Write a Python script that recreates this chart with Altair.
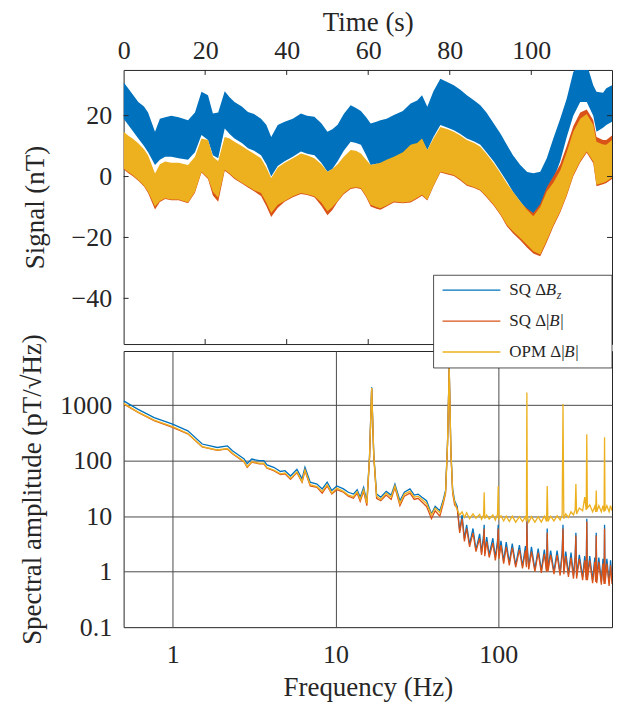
import altair as alt
import pandas as pd

# ---------------- time-domain data (envelopes of the noisy traces, nT) -------------
time_s = [0, 1.1, 2.2, 3.6, 5, 6, 7.7, 8.9, 10.2, 11.7,
          13.5, 15.8, 17.5, 19.1, 20.7, 21.9, 23.2, 24.8, 26, 27.2,
          29, 30.5, 32, 33.7, 35, 36.2, 37.8, 39.5, 41.5, 43.5,
          45, 46.8, 48.5, 50, 51.2, 52.5, 54, 55.7, 57, 58.2,
          59.5, 60.6, 62, 63, 64.5, 66.3, 68.5, 70.4, 72, 73.2,
          74.5, 76, 77.7, 79.5, 81, 82.6, 84.2, 86, 87.5, 89,
          90.8, 92.5, 94, 95.5, 97.3, 99, 100.5, 102.2, 103.8, 105.4,
          107.1, 108.7, 110.3, 112, 113.6, 115.2, 116, 117.6, 118.4, 119.8]

sq_bz_hi = [31, 29, 27, 24.5, 23, 21, 14.7, 19, 19.5, 20,
            19.5, 18.5, 21, 27.8, 26.7, 20.7, 21, 28, 26, 24.5,
            23, 21.2, 20.5, 19, 17, 13, 16.9, 18, 19, 20.7,
            20, 19.6, 17.5, 14.7, 15.5, 17, 20.5, 23.4, 22.5, 21.5,
            19.5, 17.4, 18, 18.5, 19, 20.2, 21.5, 24, 25, 26.7,
            22.9, 28, 32.1, 31, 30, 28.5, 26.7, 25, 23.4, 21,
            17.4, 14, 10.4, 7, 3.8, 1.5, 1.1, 1.6, 6, 12.5,
            19, 25.6, 34.3, 37, 37, 30, 27.8, 27.5, 29, 30]
sq_bz_lo = [19, 17, 15, 12.5, 10, 8, 3.8, 5.5, 6.5, 6.5,
            6, 5.5, 8, 13.6, 12, 7, 6, 15.8, 14, 12.5,
            11, 9.3, 8.5, 7, 4, 0, 3.5, 5, 6.5, 8.2,
            7.5, 7, 4.5, 1.6, 2.5, 5, 8.5, 11.4, 11, 10.4,
            7, 3.8, 4.2, 4, 5, 6, 7, 8.2, 10, 12,
            8.7, 13, 16.9, 16, 15.2, 14, 12.5, 11.5, 10.4, 8,
            4.9, 1.5, -1.6, -5, -8.2, -11, -12.5, -10.5, -6, -1,
            5, 13, 20, 24.5, 24.5, 20, 14.7, 16, 16.9, 18]
sq_b_hi = [14.2, 13, 12, 10.4, 8.5, 6.5, 0.5, 3.5, 4.4, 4,
           4, 3.3, 6, 12, 11.5, 6, 4.5, 12.5, 12, 10.9,
           9.5, 8.2, 7, 5.5, 2.5, -1, 2.5, 4, 5.5, 7.1,
           6.5, 5.5, 3.5, 1.1, 2, 3.5, 6, 8.2, 8, 7.1,
           5, 3.3, 3.7, 4, 5, 6, 7.5, 9.9, 10.5, 12,
           8.2, 12, 15.8, 15, 14.2, 13, 11.5, 10.5, 9.3, 7,
           3.9, 0.5, -2.7, -5.5, -8.7, -10.5, -12, -9, -3.5, 0,
           4, 10, 16.5, 21, 22, 18.5, 13, 12, 12, 13.5]
sq_b_lo = [2.4, 1.2, 0.2, -1.4, -3.3, -5.4, -10.8, -8.4, -7.4, -7.8,
           -7.8, -8.8, -5.3, 1.3, -0.8, -6.2, -8.3, 1.9, 0.7, -0.8,
           -2.3, -3.6, -4.8, -6.4, -9.7, -13.3, -10.3, -8.3, -6.8, -5.7,
           -6.1, -6.8, -9.6, -12.7, -11, -8.3, -5.8, -4.1, -3.8, -4.1,
           -6.8, -9.8, -10.6, -10.9, -9.8, -8.5, -8.8, -8.5, -7.3, -6.3,
           -7.9, -3.3, 1.3, 0.7, 0.2, -1.3, -3.0, -3.8, -4.7, -6.8,
           -9.6, -12.8, -16.3, -18.6, -20.9, -23.4, -25.3, -26.2, -21.6, -16.5,
           -11.8, -6.4, 0.1, 4.6, 7.8, 4.4, -3.2, -2.5, -2.1, -0.8]
opm_hi = [14.7, 13.5, 12.5, 10.9, 9, 7, 1, 4, 4.9, 4.5,
          4.5, 3.8, 6.5, 12.5, 12, 6.5, 5, 13, 12.5, 11.4,
          10, 8.7, 7.5, 6, 3, -0.5, 3, 4.5, 6, 7.6,
          7, 6, 4, 1.6, 2.5, 4, 6.5, 8.7, 8.5, 7.6,
          5.5, 3.8, 4.2, 4.5, 5.5, 6.5, 8, 10.4, 11, 12.5,
          8.7, 12.5, 16.3, 15.5, 14.7, 13.5, 12, 11, 9.8, 7.5,
          4.4, 1, -2.2, -5, -8.2, -11, -13, -10, -4.9, -2,
          2, 8, 14.7, 19, 20.5, 17, 11.4, 10.5, 10.4, 12]
opm_lo = [2.7, 1.5, 0.5, -1.1, -3, -5, -9.8, -8, -7.1, -7.5,
          -7.5, -8.5, -5, 1.6, -0.5, -5, -7, 2.2, 1, -0.5,
          -2, -3.3, -4.5, -5.4, -8.5, -12, -9.3, -8, -6.5, -5.4,
          -5.8, -6.5, -8.5, -11.4, -10, -8, -5.5, -3.8, -3.5, -3.8,
          -6.5, -9.3, -10, -10.4, -9.5, -8.2, -8.5, -8.2, -7, -6,
          -7.6, -3, 1.6, 1, 0.5, -1, -2.7, -3.5, -4.4, -6.5,
          -9.3, -12.5, -15.8, -18, -20.2, -22.5, -24.5, -25.6, -21, -16,
          -11.4, -6, 0.5, 5, 8.2, 4.9, -2.7, -2, -1.6, -0.3]

time_ticks = [0, 20, 40, 60, 80, 100]
signal_ticks = [-40, -20, 0, 20]

# ---------------- spectral data (pT/sqrt(Hz)) ----------------
freq_hz = [0.5, 0.61, 0.77, 1.0, 1.24, 1.52, 1.88, 2.17, 2.33, 2.5,
           2.75, 2.87, 3.06, 3.4, 3.63, 3.8, 4.18, 4.6, 4.9, 5.3,
           5.8, 6.24, 6.5, 7.0, 7.7, 8.3, 8.9, 9.5, 10.2, 11.2,
           12.0, 12.9, 13.6, 14.2, 14.9, 15.6, 16.2, 16.7, 17.2, 17.9,
           19.0, 20.5, 22.0, 23.2, 24.9, 26.5, 28.7, 30.5, 32.2, 34.0,
           36.3, 38.9, 41.0, 43.8, 46.0, 47.5, 48.8, 50.0, 51.2, 52.5,
           54.0,
           56, 58, 60, 62, 64, 66.7, 70, 73, 76.9, 79,
           81.3, 82, 82.7, 85, 88, 92.7, 96, 99, 100, 101,
           104, 108, 112, 117, 122, 128, 135, 141, 147, 149,
           150, 151, 154, 160, 168, 176, 184, 192, 198, 200,
           202, 210, 220, 230, 240, 247, 250, 253, 260, 270,
           280, 290, 297, 300, 303, 315, 330, 340, 347, 350,
           353, 365, 380, 392, 397, 400, 403, 415, 430, 440,
           447, 450, 453, 465, 480, 490, 500]

amp_sq_bz = [1200, 850, 600, 455, 345, 200, 173, 185, 151, 131,
             108, 88, 107, 100, 100, 84, 76, 64, 66, 53,
             70, 47, 76, 41, 38, 31, 41, 29, 35, 31,
             27, 25, 30, 22, 33, 18, 120, 2100, 130, 25,
             22, 28, 24, 38, 19, 27, 31, 24, 25, 22,
             19, 11, 15, 12.5, 20, 29, 200, 4800, 150, 30,
             19,
             15, 5.5, 10.5, 3.9, 7, 3.1, 6, 2.5, 4.8, 2.2,
             4.6, 7, 2.1, 4.2, 2, 4, 1.8, 3.6, 7, 1.9,
             3.6, 1.55, 3.4, 1.45, 3.2, 1.3, 3, 1.25, 2.9, 1.3,
             9, 2.8, 1.2, 2.8, 1.1, 2.6, 1.05, 2.5, 1.1, 6,
             1.1, 2.4, 1.0, 2.4, 0.95, 2.3, 7, 1.0, 2.3, 0.9,
             2.2, 0.85, 2.0, 5, 0.85, 2.0, 0.8, 1.9, 0.8, 9,
             0.8, 1.9, 0.7, 1.8, 0.72, 5, 0.7, 1.8, 0.65, 1.7,
             0.68, 7, 0.68, 1.7, 0.62, 1.6, 0.68]
amp_sq_b = [1060, 750, 530, 400, 305, 177, 153, 163, 133, 115,
            95, 76, 94, 88, 88, 73, 66, 56, 58, 46,
            61, 41, 66, 35, 33, 26, 35, 25, 30, 27,
            23, 21, 26, 18.5, 28, 15.5, 110, 2000, 120, 21,
            19, 24, 20, 33, 15.5, 23, 26, 20, 21, 18,
            15, 9, 12.5, 10, 17, 26, 190, 4700, 140, 26,
            16,
            14, 5, 9, 3.5, 6, 2.8, 5, 2.3, 4, 2,
            3.8, 6, 1.9, 3.5, 1.8, 3.3, 1.6, 3, 6, 1.7,
            3, 1.4, 2.8, 1.3, 2.7, 1.2, 2.5, 1.15, 2.4, 1.2,
            8, 2.3, 1.1, 2.3, 1.0, 2.2, 0.95, 2.1, 1.0, 5,
            1.0, 2.0, 0.9, 2.0, 0.85, 1.9, 6, 0.9, 1.9, 0.8,
            1.8, 0.75, 1.7, 4.5, 0.75, 1.7, 0.7, 1.6, 0.7, 8,
            0.7, 1.6, 0.62, 1.5, 0.65, 4.5, 0.62, 1.5, 0.58, 1.4,
            0.6, 6, 0.6, 1.4, 0.55, 1.3, 0.6]
amp_opm = [1080, 760, 540, 410, 310, 180, 156, 166, 136, 118,
           97, 78, 96, 90, 90, 75, 68, 58, 60, 48,
           63, 42, 68, 37, 34, 28, 37, 26, 32, 28,
           24, 22.5, 27.5, 20, 30, 17, 115, 2050, 125, 23,
           20, 26, 22, 35, 17, 25, 28, 22, 23, 20,
           17, 10.5, 14, 11.5, 18.5, 27, 195, 4750, 145, 28,
           18,
           13, 10.5, 12, 9.5, 11.5, 9, 11, 9.2, 10.8, 8.8,
           10.5, 27, 9, 10.5, 8.8, 10.5, 8.5, 10.8, 35, 9,
           10.2, 8.2, 10, 8, 10, 7.8, 9.8, 8, 9.8, 8,
           1700, 9.8, 7.8, 9.8, 7.8, 9.8, 7.8, 10, 8, 35,
           8, 10, 8.2, 10.2, 8.5, 10.5, 1050, 9, 11, 9.5,
           12, 10.5, 13, 38, 11, 14, 12.5, 22, 13, 300,
           14, 16, 12, 15, 12, 29, 12, 15.5, 12, 15.5,
           12, 265, 12.5, 15.5, 12, 15.5, 12.5]

freq_ticks = [1, 10, 100]
amp_ticks = [0.1, 1, 10, 100, 1000]

series_colors = ["#0072BD", "#D95319", "#EDB120"]

# ---------------- build ----------------
FONT = "Liberation Serif"
INK = "#262626"
W = 490
H_TOP = 275
H_BOT = 277

top_df = pd.DataFrame({"t": time_s,
                       "bz_hi": sq_bz_hi, "bz_lo": sq_bz_lo,
                       "b_hi": sq_b_hi, "b_lo": sq_b_lo,
                       "opm_hi": opm_hi, "opm_lo": opm_lo})

xs_top = alt.Scale(domain=[0, 119.8], nice=False, zero=False)
ys_top = alt.Scale(domain=[-55, 35], nice=False, zero=False)

axis_common = dict(labelFont=FONT, titleFont=FONT, labelFontSize=26, titleFontSize=27,
                   labelColor=INK, titleColor=INK, titleFontWeight="normal",
                   tickSize=0, domain=False, labelFlush=False)

x_top_axis = alt.Axis(orient="top", values=time_ticks, title="Time (s)", grid=False,
                      labelPadding=6, titlePadding=2, **axis_common)
y_top_axis = alt.Axis(values=signal_ticks, title="Signal (nT)", grid=False,
                      labelPadding=12, titlePadding=22, **axis_common)

areas = []
for i, (lo, hi) in enumerate([("bz_lo", "bz_hi"), ("b_lo", "b_hi"), ("opm_lo", "opm_hi")]):
    areas.append(alt.Chart(top_df).mark_area(color=series_colors[i], clip=True,
                                             interpolate="linear", opacity=1).encode(
        x=alt.X("t:Q", scale=xs_top, axis=x_top_axis),
        y=alt.Y(f"{lo}:Q", scale=ys_top, axis=y_top_axis),
        y2=alt.Y2(f"{hi}:Q"),
    ))

tx_df = pd.DataFrame({"t": [v for v in time_ticks if v > 0]})
ty_df = pd.DataFrame({"v": signal_ticks})
tick_style = dict(color=INK, strokeWidth=1)
ticks_top = [
    alt.Chart(tx_df).mark_rule(**tick_style).encode(x=alt.X("t:Q", scale=xs_top, axis=x_top_axis),
                                                    y=alt.value(0), y2=alt.value(5)),
    alt.Chart(tx_df).mark_rule(**tick_style).encode(x=alt.X("t:Q", scale=xs_top, axis=x_top_axis),
                                                    y=alt.value(H_TOP - 5), y2=alt.value(H_TOP)),
    alt.Chart(ty_df).mark_rule(**tick_style).encode(y=alt.Y("v:Q", scale=ys_top, axis=y_top_axis),
                                                    x=alt.value(0), x2=alt.value(5)),
    alt.Chart(ty_df).mark_rule(**tick_style).encode(y=alt.Y("v:Q", scale=ys_top, axis=y_top_axis),
                                                    x=alt.value(W - 5), x2=alt.value(W)),
]

top = alt.layer(*areas, *ticks_top).properties(width=W, height=H_TOP)

# bottom panel
spec_df = pd.DataFrame({"f": freq_hz, "bz": amp_sq_bz, "b": amp_sq_b, "opm": amp_opm})
xs_bot = alt.Scale(type="log", domain=[0.5, 500], nice=False)
ys_bot = alt.Scale(type="log", domain=[0.1, 9500], nice=False)

grid_style = dict(grid=True, gridColor="#4a4a4a", gridWidth=1, gridOpacity=1)
x_bot_axis = alt.Axis(values=freq_ticks, format="~g", title="Frequency (Hz)",
                      labelPadding=15, titlePadding=7, **grid_style, **axis_common)
y_bot_axis = alt.Axis(values=amp_ticks, format="~g", title="Spectral amplitude (pT/\u221aHz)",
                      labelPadding=12, titlePadding=13, **grid_style, **axis_common)

lines = []
for i, col in enumerate(["bz", "b", "opm"]):
    lines.append(alt.Chart(spec_df).mark_line(color=series_colors[i], strokeWidth=1.3, clip=True).encode(
        x=alt.X("f:Q", scale=xs_bot, axis=x_bot_axis),
        y=alt.Y(f"{col}:Q", scale=ys_bot, axis=y_bot_axis),
    ))

one = pd.DataFrame({"k": [0]})
legend_layers = [
    alt.Chart(one).mark_rect(fill="white", stroke=INK, strokeWidth=0.8).encode(
        x=alt.value(311), x2=alt.value(W), y=alt.value(-76), y2=alt.value(17))
]
row_y = [-61, -30, 1]
for i in range(3):
    legend_layers.append(alt.Chart(one).mark_rule(color=series_colors[i], strokeWidth=1.3).encode(
        x=alt.value(320), x2=alt.value(378), y=alt.value(row_y[i])))
pieces = [
    (0, "SQ \u0394", 387, "normal", 17, 0),
    (0, "B", 423.5, "italic", 17, 0),
    (0, "z", 434.5, "italic", 12, 5),
    (1, "SQ \u0394|", 387, "normal", 17, 0),
    (1, "B", 427, "italic", 17, 0),
    (1, "|", 438, "normal", 17, 0),
    (2, "OPM \u0394|", 387, "normal", 17, 0),
    (2, "B", 442, "italic", 17, 0),
    (2, "|", 453, "normal", 17, 0),
]
for row, s, x, style, size, dy in pieces:
    legend_layers.append(alt.Chart(one).mark_text(
        text=s, font=FONT, fontSize=size, fontStyle=style, color=INK,
        align="left", baseline="middle").encode(
        x=alt.value(x), y=alt.value(row_y[row] + dy)))

bottom = alt.layer(*lines, *legend_layers).properties(width=W, height=H_BOT)

chart = alt.vconcat(top, bottom, spacing=7, bounds="flush").configure(
    padding={"left": 10, "top": -2, "right": 0, "bottom": 0}
).configure_view(stroke=INK, strokeWidth=1)

chart.save("out.html", embed_options={"renderer": "svg", "actions": False})
